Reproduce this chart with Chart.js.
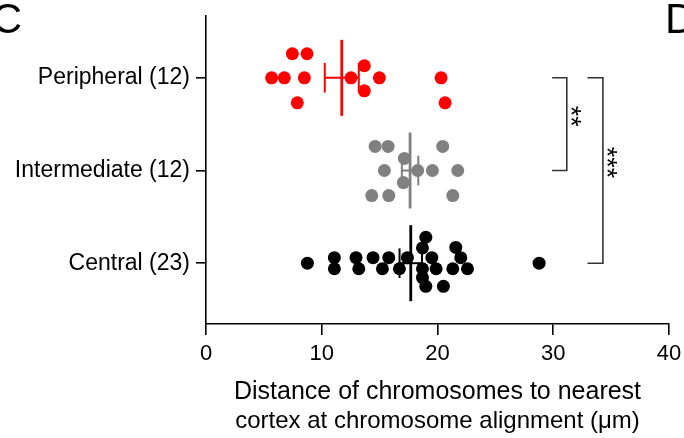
<!DOCTYPE html>
<html>
<head>
<meta charset="utf-8">
<script src="https://cdn.jsdelivr.net/npm/chart.js@4.4.1/dist/chart.umd.min.js"></script>
<style>
  html, body { margin: 0; padding: 0; background: #fff; }
  #wrap { width: 684px; height: 438px; }
</style>
</head>
<body>
<div id="wrap"><canvas id="c" width="684" height="438"></canvas></div>
<script>
// y index 0 = Central, 1 = Intermediate, 2 = Peripheral
var categories = ['Central (23)', 'Intermediate (12)', 'Peripheral (12)'];
var groupColors = ['#000000', '#808080', '#ff0000'];
var xTicks = [0, 10, 20, 30, 40];

var centralX = [8.76, 11.09, 11.09, 12.96, 13.2, 14.43, 15.24, 15.79, 16.71, 17.4, 18.99, 18.7,
                19.51, 18.7, 19.88, 18.7, 18.99, 20.51, 21.58, 22.01, 21.32, 22.59, 28.78];
var centralDy = [0, 0.06, -0.06, 0.06, -0.06, 0.06, -0.06, 0.06, -0.06, 0.06, 0.28, 0.165,
                 0.06, -0.06, -0.06, -0.155, -0.25, -0.25, 0.17, 0.06, -0.06, -0.06, 0];

var intermediateX = [14.61, 15.73, 20.45, 17.14, 15.41, 18.29, 19.56, 21.75, 17.05, 14.32, 15.79, 21.32];
var intermediateDy = [0.26, 0.26, 0.26, 0.13, 0, 0, 0, 0, -0.13, -0.27, -0.27, -0.27];

var peripheralX = [7.46, 8.73, 5.67, 6.77, 8.5, 7.89, 12.53, 13.68, 13.68, 14.98, 20.31, 20.66];
var peripheralDy = [0.26, 0.26, 0, 0, 0, -0.27, 0, 0.13, -0.14, 0, 0, -0.27];

var means = [17.69, 17.63, 11.73];
var sems = [0.97, 0.71, 1.47];

// significance brackets: between categories, x of bracket ends, label
var bracketFrom = [2, 2];
var bracketTo = [1, 0];
var bracketX = [[29.9, 31.17], [32.96, 34.29]];
var bracketLabels = ['**', '***'];

var titleLines = ['Distance of chromosomes to nearest', 'cortex at chromosome alignment (\u03bcm)'];

var FONT = '"Liberation Sans", Arial, Helvetica, sans-serif';

function pts(xs, dys, idx) {
    return xs.map(function (v, i) { return { x: v, y: idx + dys[i] }; });
}

var datasets = [];
var groupsX = [centralX, intermediateX, peripheralX];
var groupsDy = [centralDy, intermediateDy, peripheralDy];

groupsX.forEach(function (xs, g) {
    // mean line (on top)
    datasets.push({
        data: [{ x: means[g], y: g - 0.41 }, { x: means[g], y: g + 0.41 }],
        showLine: true, borderColor: groupColors[g], borderWidth: 2.8,
        pointRadius: 0, order: 0
    });
    // points
    datasets.push({
        data: pts(xs, groupsDy[g], g),
        backgroundColor: groupColors[g], borderWidth: 0,
        pointRadius: 6.5, pointHoverRadius: 6.5, order: 1
    });
    // sem bar + caps (under points)
    var lo = means[g] - sems[g], hi = means[g] + sems[g];
    [[{ x: lo, y: g }, { x: hi, y: g }],
     [{ x: lo, y: g - 0.16 }, { x: lo, y: g + 0.16 }],
     [{ x: hi, y: g - 0.16 }, { x: hi, y: g + 0.16 }]].forEach(function (seg) {
        datasets.push({
            data: seg, showLine: true, borderColor: groupColors[g], borderWidth: 2,
            pointRadius: 0, order: 2
        });
    });
});

bracketFrom.forEach(function (f, i) {
    var t = bracketTo[i], bx = bracketX[i];
    datasets.push({
        data: [{ x: bx[0], y: f }, { x: bx[1], y: f }, { x: bx[1], y: t }, { x: bx[0], y: t }],
        showLine: true, borderColor: '#333333', borderWidth: 1.6,
        pointRadius: 0, order: 3
    });
});

var extraText = {
    id: 'extraText',
    afterDraw: function (chart) {
        var ctx = chart.ctx, xs = chart.scales.x, ys = chart.scales.y;
        ctx.save();
        ctx.fillStyle = '#000';

        // axis title
        ctx.textAlign = 'center';
        ctx.textBaseline = 'alphabetic';
        var cx = (xs.left + xs.right) / 2;
        ctx.font = '25px ' + FONT;
        ctx.fillText(titleLines[0], cx, xs.top + 75);
        ctx.font = '24px ' + FONT;
        ctx.fillText(titleLines[1], cx, xs.top + 104);

        // significance stars, rotated
        ctx.font = '27px ' + FONT;
        bracketLabels.forEach(function (lab, i) {
            var px = xs.getPixelForValue(bracketX[i][1]) + 9;
            var py = (ys.getPixelForValue(bracketFrom[i]) + ys.getPixelForValue(bracketTo[i])) / 2 - 8;
            ctx.save();
            ctx.translate(px, py);
            ctx.rotate(Math.PI / 2);
            ctx.textAlign = 'center';
            ctx.textBaseline = 'alphabetic';
            var m = ctx.measureText(lab);
            var off = (m.actualBoundingBoxAscent - m.actualBoundingBoxDescent) / 2;
            ctx.fillText(lab, 0, off);
            ctx.restore();
        });

        // panel letters
        ctx.font = '42px ' + FONT;
        ctx.textAlign = 'left';
        var mc = ctx.measureText('C');
        ctx.fillText('C', 20.7 - mc.actualBoundingBoxRight, 33);
        var md = ctx.measureText('D');
        ctx.fillText('D', 668 + md.actualBoundingBoxLeft, 33);
        ctx.restore();
    }
};

new Chart(document.getElementById('c'), {
    type: 'scatter',
    data: { datasets: datasets },
    options: {
        responsive: false,
        animation: false,
        events: [],
        layout: { padding: { left: 0, right: 15, top: 16, bottom: 0 } },
        plugins: { legend: { display: false }, tooltip: { enabled: false } },
        scales: {
            x: {
                type: 'linear', min: 0, max: 40,
                afterBuildTicks: function (s) { s.ticks = xTicks.map(function (v) { return { value: v }; }); },
                afterFit: function (s) { s.height = 114; s.paddingLeft = 0; s.paddingRight = 0; },
                grid: { display: true, drawOnChartArea: false, drawTicks: true, tickLength: 11, color: '#000', lineWidth: 1.6 },
                border: { display: true, color: '#000', width: 1.6 },
                ticks: { color: '#000', font: { family: FONT, size: 22 }, padding: 6, maxRotation: 0 }
            },
            y: {
                type: 'linear', min: -0.656, max: 2.667,
                afterBuildTicks: function (s) { s.ticks = categories.map(function (c, i) { return { value: i }; }); },
                afterFit: function (s) { s.width = 206; s.paddingTop = 0; s.paddingBottom = 0; },
                grid: { display: true, drawOnChartArea: false, drawTicks: true, tickLength: 10, color: '#000', lineWidth: 1.6 },
                border: { display: true, color: '#000', width: 1.6 },
                ticks: {
                    color: '#000', font: { family: FONT, size: 23 }, padding: 6,
                    callback: function (v) { return categories[v]; }
                }
            }
        }
    },
    plugins: [extraText]
});
</script>
</body>
</html>
